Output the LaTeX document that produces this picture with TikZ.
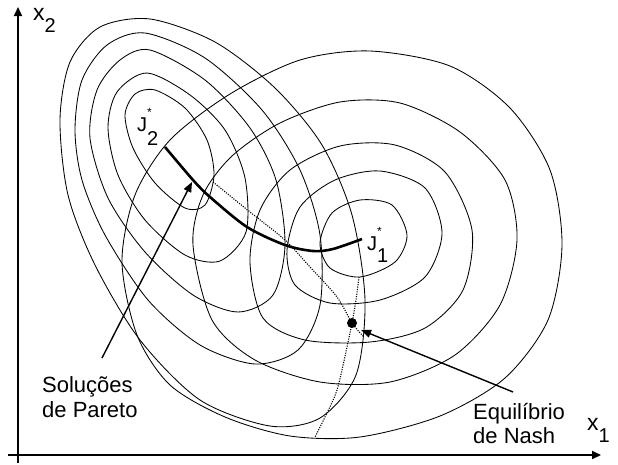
\documentclass[tikz,border=0pt]{standalone}
\usepackage{fontspec}
\setmainfont{Liberation Sans}
\usetikzlibrary{arrows.meta}
\tikzset{contour/.style={draw=black,line width=0.85pt},pareto/.style={draw=black,line width=2.6pt},reaction/.style={draw=black,line width=1.1pt,dash pattern=on 1.1pt off 1.3pt},pointer/.style={draw=black,line width=1.4pt,-{Triangle[length=10pt,width=8pt]}},axis/.style={draw=black,line width=1.8pt,-{Triangle[length=9pt,width=8pt]}},lbl/.style={inner sep=0pt,anchor=base west,font=\fontsize{22}{24}\selectfont},nashdot/.style={circle,fill=black,inner sep=0pt,minimum size=10pt}}
\newcommand{\lowsub}[2]{\raisebox{#1}{\fontsize{20}{20}\selectfont #2}}
\newcommand{\optstar}[2]{J\rlap{\raisebox{15pt}{\fontsize{12}{12}\selectfont *}}\lowsub{#1}{#2}}

\begin{document}
\begin{tikzpicture}[x=1pt,y=-1pt]
\useasboundingbox (0,0) rectangle (618,464);
% contours of J2
\draw[contour] plot[smooth cycle] coordinates {(125,115) (135,94) (155,90) (185,108) (207,140) (214,175) (205,205) (185,208) (155,183) (133,148)};
\draw[contour] plot[smooth cycle] coordinates {(108,128) (117,92) (147,73) (190,95) (225,130) (245,178) (246,232) (220,261) (185,255) (145,220) (118,175)};
\draw[contour] plot[smooth cycle] coordinates {(90,138) (97,90) (120,60) (150,50) (205,80) (250,128) (276,180) (285,245) (273,295) (238,312) (193,295) (145,252) (108,198)};
\draw[contour] plot[smooth cycle] coordinates {(75,130) (82,80) (107,45) (145,33) (205,58) (262,110) (300,170) (320,235) (320,305) (298,350) (255,364) (200,345) (148,300) (105,235) (82,180)};
\draw[contour] plot[smooth cycle] coordinates {(60,120) (70,62) (100,27) (150,19) (215,42) (275,88) (322,145) (352,215) (365,300) (356,375) (320,418) (270,426) (200,400) (140,340) (95,265) (68,195)};
% contours of J1
\draw[contour] plot[smooth cycle] coordinates {(320,243) (332,213) (360,200) (392,205) (407,235) (395,262) (360,277) (330,268)};
\draw[contour] plot[smooth cycle] coordinates {(287,250) (300,207) (335,180) (380,171) (425,188) (442,233) (425,277) (380,300) (330,303) (295,285)};
\draw[contour] plot[smooth cycle] coordinates {(250,262) (260,210) (290,170) (340,146) (395,145) (445,172) (472,230) (463,290) (425,328) (370,342) (305,340) (263,318)};
\draw[contour] plot[smooth cycle] coordinates {(193,245) (203,195) (232,156) (280,123) (340,102) (400,103) (460,132) (505,180) (517,240) (500,305) (455,355) (390,382) (320,382) (255,360) (212,320)};
\draw[contour] plot[smooth cycle] coordinates {(122,262) (135,195) (170,140) (230,94) (300,60) (370,51) (450,66) (510,108) (550,170) (562,245) (548,320) (505,378) (440,416) (360,437) (290,436) (225,417) (170,385) (137,335)};
% reaction curves and Pareto set
\draw[reaction] plot[smooth] coordinates {(213,182) (250,212) (285,240) (310,267) (337,297) (352,323) (363,336)};
\draw[reaction] plot[smooth] coordinates {(359,277) (356,300) (352,323) (347,347) (337,390) (325,417) (315,437)};
\draw[pareto] plot[smooth] coordinates {(165,147) (193,180) (210,197) (247,227) (285,245) (313,251) (333,249) (362,239)};
\node[nashdot] (nash) at (352,323) {};
% axes
\coordinate (ytop) at (18,7);
\coordinate (ybot) at (18,463);
\coordinate (xleft) at (8,455);
\coordinate (xright) at (601,455);
\draw[axis] (ybot) -- (ytop);
\draw[axis] (xleft) -- (xright);
\node[lbl,font=\fontsize{23}{24}\selectfont] (xtwo) at (33,20) {x\lowsub{-12pt}{2}};
\node[lbl,font=\fontsize{23}{24}\selectfont] (xone) at (587,430) {x\lowsub{-12pt}{1}};
\node[lbl,font=\fontsize{20}{20}\selectfont] (jtwo) at (137,131) {\optstar{-14pt}{2}};
\node[lbl,font=\fontsize{20}{20}\selectfont] (jone) at (367,250) {\optstar{-12pt}{1}};
% labels and pointers
\node[lbl] (sol) at (42,392) {Soluções};
\node[lbl] (par) at (42,417) {de Pareto};
\node[lbl] (equ) at (473,419) {Equilíbrio};
\node[lbl] (nas) at (473,443) {de Nash};
\coordinate (paretoFoot) at (102,358);
\coordinate (paretoTip) at (192,182);
\coordinate (nashFoot) at (513,392);
\coordinate (nashTip) at (361,330);
\draw[pointer] (paretoFoot) -- (paretoTip);
\draw[pointer] (nashFoot) -- (nashTip);
\end{tikzpicture}
\end{document}
